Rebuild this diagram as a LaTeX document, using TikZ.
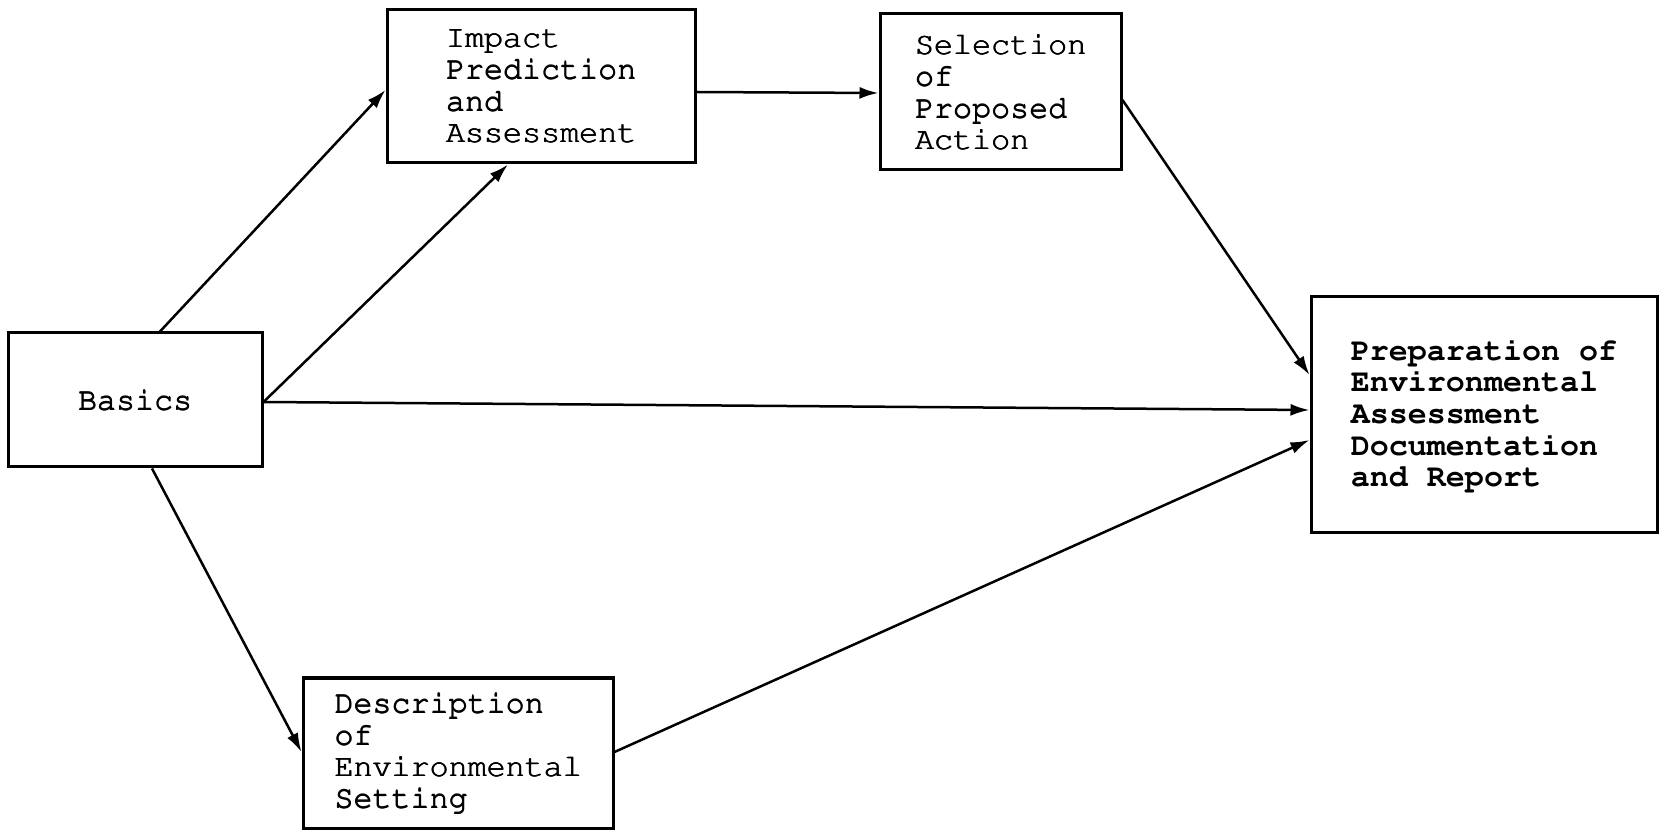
\documentclass[tikz,border=0pt]{standalone}
\usepackage[T1]{fontenc}
\usetikzlibrary{arrows.meta}
% Courier-style typewriter face for the labels (Latin Modern Mono if Courier is absent)
\IfFileExists{t1pcr.fd}{\newcommand{\twfam}{pcr}}{\newcommand{\twfam}{lmtt}}
\newcommand{\twfont}{\fontfamily{\twfam}\fontseries{m}\selectfont}
\newcommand{\twbold}{\fontfamily{\twfam}\fontseries{b}\selectfont}
% typewriter ink: overprint a line a few times for a heavier stroke
\newcommand{\inked}[1]{\rlap{#1}\rlap{\kern0.45pt#1}\raisebox{0.3pt}{\kern0.22pt#1}}
\begin{document}
\begin{tikzpicture}[x=0.5pt,y=-0.5pt,
  box/.style={draw, line width=1.5pt, rectangle, inner sep=0pt, align=left,
    font=\twfont\fontsize{15.85pt}{15.85pt}\selectfont},
  flow/.style={line width=1.25pt, -{Latex[length=9.5pt,width=6pt]}}]
  \useasboundingbox (0,0) rectangle (1660,833);

  % process boxes
  \node[box, minimum width=127pt, minimum height=67pt] (basics) at (135,400)
    {\inked{Basics}};
  \node[box, minimum width=154pt, minimum height=76.5pt] (impact) at (541,86.5)
    {\inked{Impact}\\\inked{Prediction}\\\inked{and}\\\inked{Assessment}};
  \node[box, minimum width=120.5pt, minimum height=78pt] (select) at (1000.5,92)
    {\inked{Selection}\\\inked{of}\\\inked{Proposed}\\\inked{Action}};
  \node[box, minimum width=173pt, minimum height=118pt,
    font=\twbold\fontsize{15.85pt}{15.85pt}\selectfont] (prep) at (1484,415)
    {Preparation of\\Environmental\\Assessment\\Documentation\\and Report};
  \node[box, minimum width=155pt, minimum height=75pt] (descr) at (458,753)
    {\inked{Description}\\\inked{of}\\\inked{Environmental}\\\inked{Setting}};

  % connectors
  \draw[flow] ([xshift=12.5pt]basics.north) -- ([yshift=-1.75pt]impact.west);
  \draw[flow] ([yshift=-1pt]basics.east) -- ([xshift=-16.5pt]impact.south);
  \draw[flow] ([yshift=-1pt]basics.east) -- ([yshift=2.5pt]prep.west);
  \draw[flow] ([xshift=8.5pt]basics.south) -- ([yshift=0.5pt]descr.west);
  \draw[flow] ([yshift=0.5pt]descr.east) -- ([yshift=-12.5pt]prep.west);
  \draw[flow] ([yshift=-2.75pt]impact.east) -- ([yshift=-0.5pt]select.west);
  \draw[flow] ([yshift=-4pt]select.east) -- ([yshift=20pt]prep.west);
\end{tikzpicture}
\end{document}
